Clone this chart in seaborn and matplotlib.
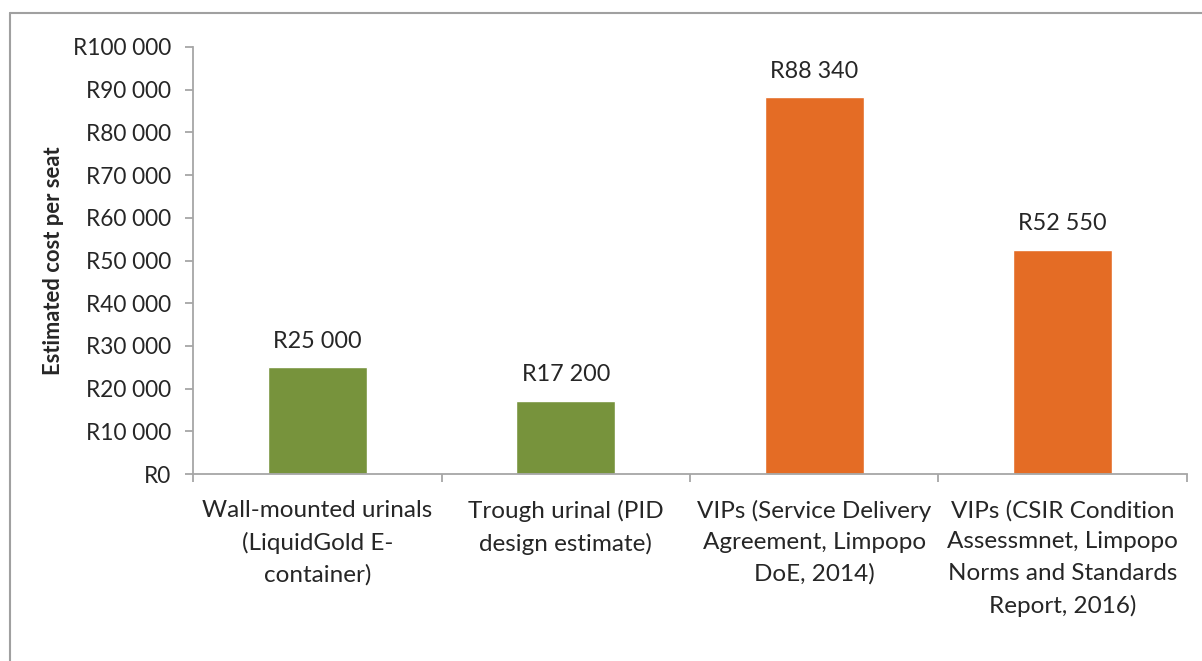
import matplotlib.pyplot as plt
import seaborn as sns
import pandas as pd
from matplotlib.lines import Line2D

# Data
categories = [
    "Wall-mounted urinals\n(LiquidGold E-\ncontainer)",
    "Trough urinal (PID\ndesign estimate)",
    "VIPs (Service Delivery\nAgreement, Limpopo\nDoE, 2014)",
    "VIPs (CSIR Condition\nAssessmnet, Limpopo\nNorms and Standards\nReport, 2016)",
]
costs = [25000, 17200, 88340, 52550]
bar_colors = ["#77933C", "#77933C", "#E46C25", "#E46C25"]
y_ticks = list(range(0, 100001, 10000))


def rand(v):
    return "R" + f"{v:,}".replace(",", " ")


sns.set_theme(style="white")
plt.rcParams['font.family'] = ['Lato', 'DejaVu Sans']
text_color = "#262626"
axis_gray = "#A6A6A6"

df = pd.DataFrame({"category": categories, "cost": costs})

fig = plt.figure(figsize=(12.02, 6.61), dpi=100)
ax = fig.add_axes([0.1606, 0.2829, 0.8269, 0.646])

sns.barplot(data=df, x="category", y="cost", hue="category",
            palette=bar_colors, legend=False, width=0.4, saturation=1, ax=ax)

ax.set_xlim(-0.5, len(categories) - 0.5)
ax.set_ylim(0, 100000)
ax.set_yticks(y_ticks)
ax.set_yticklabels([rand(v) for v in y_ticks], fontsize=16.3, color=text_color)

# category labels, tick marks between categories
ax.set_xticks(range(len(categories)))
ax.set_xticklabels(categories, fontsize=17.5, color=text_color, linespacing=1.6, va="top")
ax.set_xticks([i - 0.5 for i in range(len(categories) + 1)], minor=True)
ax.tick_params(axis="x", which="major", bottom=False, length=0, pad=18.5)
ax.tick_params(axis="x", which="minor", bottom=True, length=6, width=1.3,
               color=axis_gray, direction="out")
ax.tick_params(axis="y", left=True, length=6, width=1.3, color=axis_gray,
               direction="out", pad=10)

for side in ["top", "right"]:
    ax.spines[side].set_visible(False)
for side in ["left", "bottom"]:
    ax.spines[side].set_color(axis_gray)
    ax.spines[side].set_linewidth(1.3)

ax.set_xlabel("")
ax.set_ylabel("Estimated cost per seat", fontsize=15.8, fontweight="bold",
              color=text_color, labelpad=6)

for i, v in enumerate(costs):
    ax.annotate(rand(v), (i, v), xytext=(0, 11), textcoords="offset points",
                ha="center", va="bottom", fontsize=16.8, color=text_color)

# chart border (left and top edges visible)
fig.add_artist(Line2D([10 / 1202, 10 / 1202], [0, 1 - 13 / 661], transform=fig.transFigure,
                      color="#A0A0A0", linewidth=1.5))
fig.add_artist(Line2D([10 / 1202, 1], [1 - 13 / 661, 1 - 13 / 661], transform=fig.transFigure,
                      color="#A0A0A0", linewidth=1.5))

plt.savefig("out.png", dpi=100)
